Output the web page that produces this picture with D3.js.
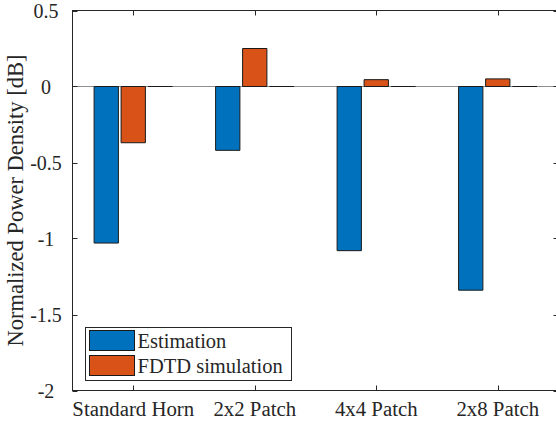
<!DOCTYPE html>
<html>
<head>
<meta charset="utf-8">
<script src="https://cdn.jsdelivr.net/npm/d3@7"></script>
<style>
  body { margin: 0; background: #fff; }
</style>
</head>
<body>
<div id="chart"></div>
<script>
// categories and series values (dB)
var categories = ["Standard Horn", "2x2 Patch", "4x4 Patch", "2x8 Patch"];
var estimation = [-1.03, -0.42, -1.08, -1.34];
var fdtd = [-0.37, 0.25, 0.045, 0.05];
var third = [0, 0, 0, 0];
var seriesNames = ["Estimation", "FDTD simulation", "Third"];
var legendNames = ["Estimation", "FDTD simulation"];
var seriesColors = ["#0072BD", "#D95319", "#EDB120"];
var yTicks = [0.5, 0, -0.5, -1, -1.5, -2];

var w = 556, h = 427;
var mLeft = 72.5, mRight = 558.5, mTop = 10.5, mBottom = 390.5;
var axisColor = "#262626";
var serif = "'Liberation Serif', 'Times New Roman', Times, serif";

var svg = d3.select("#chart").append("svg")
    .attr("width", w)
    .attr("height", h)
    .style("font-family", serif);

var x = d3.scaleBand()
    .domain(categories)
    .range([mLeft, mRight])
    .padding(0);

var xs = d3.scaleBand()
    .domain(seriesNames)
    .range([-40.5, 40.5])
    .paddingInner(0.1)
    .paddingOuter(0.05);

var y = d3.scaleLinear()
    .domain([-2, 0.5])
    .range([mBottom, mTop]);

var rows = categories.map(function (c, i) {
  return { cat: c, values: [estimation[i], fdtd[i], third[i]] };
});

// baseline
svg.append("line")
    .attr("x1", mLeft).attr("x2", mRight)
    .attr("y1", y(0)).attr("y2", y(0))
    .style("stroke", "#8f8f8f")
    .style("stroke-width", 1);

// bars (paths, so zero-height bars still show their edge)
function barPath(d) {
  var p = d3.path();
  var x0 = xs(d.s), y0 = y(0), y1 = y(d.v);
  p.moveTo(x0, y0);
  p.lineTo(x0, y1);
  p.lineTo(x0 + xs.bandwidth(), y1);
  p.lineTo(x0 + xs.bandwidth(), y0);
  p.closePath();
  return p.toString();
}

var groups = svg.selectAll("g.group")
    .data(rows)
  .enter().append("g")
    .attr("class", "group")
    .attr("transform", function (d) { return "translate(" + (x(d.cat) + x.bandwidth() / 2) + ",0)"; });

groups.selectAll("path")
    .data(function (d) { return d.values.map(function (v, j) { return { v: v, s: seriesNames[j], j: j }; }); })
  .enter().append("path")
    .attr("d", barPath)
    .style("fill", function (d) { return seriesColors[d.j]; })
    .style("stroke", "#1a1a1a")
    .style("stroke-width", 1);

// axes box
var tickLen = 5;
var box = svg.append("g");
box.append("rect")
    .attr("x", mLeft).attr("y", mTop)
    .attr("width", mRight - mLeft).attr("height", mBottom - mTop)
    .style("fill", "none")
    .style("stroke", axisColor)
    .style("stroke-width", 1);

categories.forEach(function (c) {
  var cx = Math.round(x(c) + x.bandwidth() / 2) + 0.5;
  box.append("line").attr("x1", cx).attr("x2", cx).attr("y1", mBottom).attr("y2", mBottom - tickLen)
      .style("stroke", axisColor);
  box.append("line").attr("x1", cx).attr("x2", cx).attr("y1", mTop).attr("y2", mTop + tickLen)
      .style("stroke", axisColor);
});

yTicks.forEach(function (t) {
  var ty = Math.round(y(t)) + 0.5;
  box.append("line").attr("x1", mLeft).attr("x2", mLeft + tickLen).attr("y1", ty).attr("y2", ty)
      .style("stroke", axisColor);
  box.append("line").attr("x1", mRight).attr("x2", mRight - tickLen).attr("y1", ty).attr("y2", ty)
      .style("stroke", axisColor);
});

// tick labels
svg.selectAll("text.ytick")
    .data(yTicks)
  .enter().append("text")
    .attr("class", "ytick")
    .attr("x", 46)
    .attr("y", function (d) { return y(d); })
    .attr("dy", "0.35em")
    .attr("text-anchor", "middle")
    .style("font-family", serif)
    .style("font-size", "20px")
    .style("fill", axisColor)
    .text(function (d) { return d; });

svg.selectAll("text.xtick")
    .data(categories)
  .enter().append("text")
    .attr("class", "xtick")
    .attr("x", function (d) { return x(d) + x.bandwidth() / 2; })
    .attr("y", 416)
    .attr("text-anchor", "middle")
    .style("font-family", serif)
    .style("font-size", "20.8px")
    .style("fill", axisColor)
    .text(function (d) { return d; });

// y label
svg.append("text")
    .attr("transform", "translate(23," + ((mTop + mBottom) / 2) + ") rotate(-90)")
    .attr("text-anchor", "middle")
    .style("font-family", serif)
    .style("font-size", "22.5px")
    .style("fill", axisColor)
    .text("Normalized Power Density [dB]");

// legend
var lg = svg.append("g").attr("transform", "translate(85.5,327.5)");
lg.append("rect")
    .attr("width", 206).attr("height", 53)
    .style("fill", "#fff")
    .style("stroke", axisColor)
    .style("stroke-width", 1);

var items = lg.selectAll("g.item")
    .data(legendNames)
  .enter().append("g")
    .attr("class", "item")
    .attr("transform", function (d, i) { return "translate(4," + (3 + i * 25) + ")"; });

items.append("rect")
    .attr("width", 45).attr("height", 20)
    .style("fill", function (d, i) { return seriesColors[i]; })
    .style("stroke", "#1a1a1a");

items.append("text")
    .attr("x", 48)
    .attr("y", 10)
    .attr("dy", "0.35em")
    .style("font-family", serif)
    .style("font-size", "20.5px")
    .style("fill", axisColor)
    .text(function (d) { return d; });
</script>
</body>
</html>
